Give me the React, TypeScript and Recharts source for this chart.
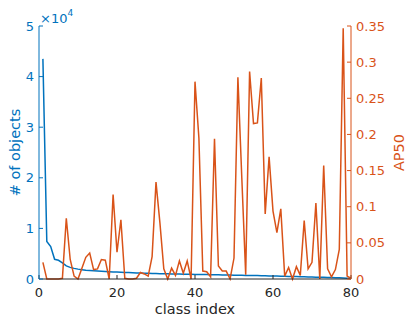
import { LineChart, Line, XAxis, YAxis, Label } from "recharts";

// number of training objects per class (sorted, classes 1..80)
const objectCounts = [
  43500, 7400, 6400, 3900, 3700, 3200, 2600, 2300, 2100, 1950,
  1850, 1750, 1680, 1620, 1570, 1520, 1480, 1440, 1400, 1360,
  1330, 1300, 1270, 1240, 1210, 1180, 1150, 1120, 1100, 1080,
  1060, 1040, 1020, 1000, 985, 970, 955, 940, 925, 910,
  895, 880, 865, 850, 835, 820, 805, 790, 775, 760,
  745, 730, 715, 700, 685, 670, 650, 630, 610, 590,
  570, 550, 530, 510, 490, 470, 450, 430, 410, 390,
  370, 350, 330, 310, 290, 260, 230, 200, 150, 100,
];

// AP50 per class
const ap50 = [
  0.023, 0.0, 0.0, 0.0, 0.0, 0.001, 0.084, 0.027, 0.004, 0.0,
  0.015, 0.03, 0.036, 0.013, 0.014, 0.027, 0.026, 0.0, 0.117, 0.037,
  0.082, 0.001, 0.0, 0.0, 0.001, 0.009, 0.007, 0.004, 0.031, 0.134,
  0.078, 0.014, 0.0, 0.015, 0.005, 0.025, 0.008, 0.025, 0.0, 0.273,
  0.195, 0.011, 0.01, 0.003, 0.194, 0.018, 0.011, 0.011, 0.0, 0.029,
  0.279, 0.14, 0.006, 0.287, 0.215, 0.216, 0.278, 0.09, 0.169, 0.094,
  0.064, 0.097, 0.004, 0.016, 0.0, 0.017, 0.005, 0.081, 0.014, 0.023,
  0.105, 0.0, 0.157, 0.014, 0.003, 0.013, 0.041, 0.347, 0.004, 0.001,
];

const xTicks = [0, 20, 40, 60, 80];
const countTicks = [0, 10000, 20000, 30000, 40000, 50000];
const apTicks = [0, 0.05, 0.1, 0.15, 0.2, 0.25, 0.3, 0.35];

const BLUE = "#0072BD";
const ORANGE = "#D95319";
const DARK = "#262626";
const FONT = "DejaVu Sans";

const data = objectCounts.map((n, i) => ({ idx: i + 1, count: n, ap: ap50[i] }));

// rotated axis titles
const sideTitle = (text: string, color: string, dx: number) => (props: any) => {
  const { x, y, height } = props.viewBox;
  const cx = x + dx;
  const cy = y + height / 2;
  return (
    <text
      x={cx}
      y={cy}
      transform={`rotate(-90 ${cx} ${cy})`}
      textAnchor="middle"
      dominantBaseline="central"
      fill={color}
      fontSize={14.5}
      fontFamily={FONT}
    >
      {text}
    </text>
  );
};

// the "x10^4" multiplier above the left axis
const multiplier = (props: any) => {
  const { x, y, width } = props.viewBox;
  const left = x + width + 1;
  return (
    <text x={left} y={y - 3} fill={BLUE} fontSize={13} fontFamily={FONT}>
      ×10
      <tspan fontSize={9} dy={-7}>
        4
      </tspan>
    </text>
  );
};

export default function App() {
  const tickFont = { fontSize: 13, fontFamily: FONT };
  return (
    <div style={{ position: "absolute", left: 0, top: 0, width: 407, height: 323, background: "#fff" }}>
      <LineChart width={407} height={323} data={data} margin={{ top: 26, right: 0, bottom: 0, left: 0 }}>
        <XAxis
          xAxisId="bottom"
          dataKey="idx"
          type="number"
          domain={[0, 80]}
          ticks={xTicks}
          height={44}
          tickSize={-4}
          tickMargin={13}
          axisLine={{ stroke: DARK }}
          tickLine={{ stroke: DARK }}
          tick={{ ...tickFont, fill: DARK }}
        >
          <Label
            content={(props: any) => {
              const { x, y, width } = props.viewBox;
              return (
                <text x={x + width / 2} y={y + 35} textAnchor="middle" fill={DARK} fontSize={14.5} fontFamily={FONT}>
                  class index
                </text>
              );
            }}
          />
        </XAxis>
        <XAxis
          xAxisId="top"
          orientation="top"
          dataKey="idx"
          type="number"
          domain={[0, 80]}
          ticks={xTicks}
          height={0}
          tickSize={-4}
          axisLine={{ stroke: DARK }}
          tickLine={{ stroke: DARK }}
          tick={false}
        />
        <YAxis
          yAxisId="count"
          orientation="left"
          width={39}
          domain={[0, 50000]}
          ticks={countTicks}
          tickFormatter={(v: number) => String(v / 10000)}
          tickSize={-4}
          tickMargin={9}
          axisLine={{ stroke: BLUE }}
          tickLine={{ stroke: BLUE }}
          tick={{ ...tickFont, fill: BLUE }}
        >
          <Label content={sideTitle("# of objects", BLUE, 15)} />
          <Label content={multiplier} />
        </YAxis>
        <YAxis
          yAxisId="ap"
          orientation="right"
          width={56}
          domain={[0, 0.35]}
          ticks={apTicks}
          tickFormatter={(v: number) => String(Math.round(v * 100) / 100)}
          tickSize={-4}
          tickMargin={9}
          axisLine={{ stroke: ORANGE }}
          tickLine={{ stroke: ORANGE }}
          tick={{ ...tickFont, fill: ORANGE }}
        >
          <Label content={sideTitle("AP50", ORANGE, 47.5)} />
        </YAxis>
        <Line
          xAxisId="bottom"
          yAxisId="count"
          dataKey="count"
          stroke={BLUE}
          strokeWidth={1.5}
          dot={false}
          type="linear"
          isAnimationActive={false}
        />
        <Line
          xAxisId="bottom"
          yAxisId="ap"
          dataKey="ap"
          stroke={ORANGE}
          strokeWidth={1.5}
          dot={false}
          type="linear"
          isAnimationActive={false}
        />
      </LineChart>
    </div>
  );
}
